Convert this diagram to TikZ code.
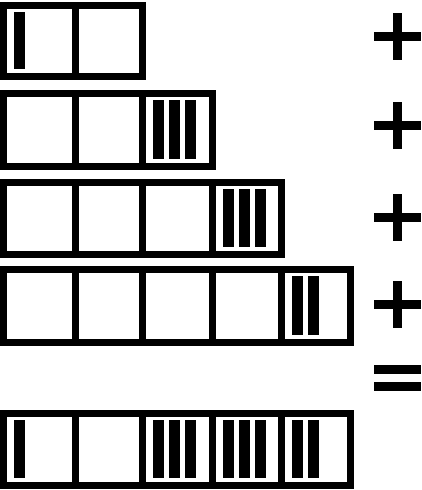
\documentclass[tikz,border=0pt]{standalone}
\newcommand\cellrow[3]{% #1 = list of a/b x pairs, #2 top, #3 bottom (outer)
  \foreach \a/\b in {#1} \draw[cellframe] (\a,#2+3.5) rectangle (\b,#3-3.5);}
\newcommand\tallybars[4]{% #1 left divider x, #2 count, #3 outer top, #4 outer bottom
  \foreach \k in {1,...,#2} \fill[tally] ({#1+10.5+16*(\k-1)},#3+10) rectangle ++(11,{#4-#3-21});}
\newcommand\plussign[1]{%
  \fill[sign] (374,#1-4.5) rectangle (421,#1+4.5);
  \fill[sign] (393,#1-23.5) rectangle (402,#1+23.5);}
\begin{document}
\begin{tikzpicture}[x=1pt,y=-1pt,
  cellframe/.style={draw=black,line width=7pt,line join=miter},
  tally/.style={fill=black},
  sign/.style={fill=black}]
\useasboundingbox (0,0) rectangle (422,490);
\fill[white] (0,0) rectangle (422,490);
% row 1
\cellrow{3.5/75.5,75.5/142}{2}{80}
\tallybars{3.5}{1}{2}{80}
% row 2
\cellrow{3.5/75.5,75.5/142.5,142.5/212}{90}{170}
\tallybars{142.5}{3}{90}{170}
% row 3
\cellrow{3.5/75.5,75.5/142.5,142.5/212,212/281}{179}{258}
\tallybars{212}{3}{179}{258}
% row 4
\cellrow{3.5/75.5,75.5/142.5,142.5/212,212/281,281/350}{266}{346}
\tallybars{281}{2}{266}{346}
% row 5 (result)
\cellrow{3.5/75.5,75.5/142.5,142.5/212,212/281,281/350}{410}{489}
\tallybars{3.5}{1}{410}{489}
\tallybars{142.5}{3}{410}{489}
\tallybars{212}{3}{410}{489}
\tallybars{281}{2}{410}{489}
% signs
\plussign{36.5}
\plussign{125.5}
\plussign{217.5}
\plussign{304}
\fill[sign] (374,365) rectangle (421,374);
\fill[sign] (374,382) rectangle (421,391);
\end{tikzpicture}
\end{document}
